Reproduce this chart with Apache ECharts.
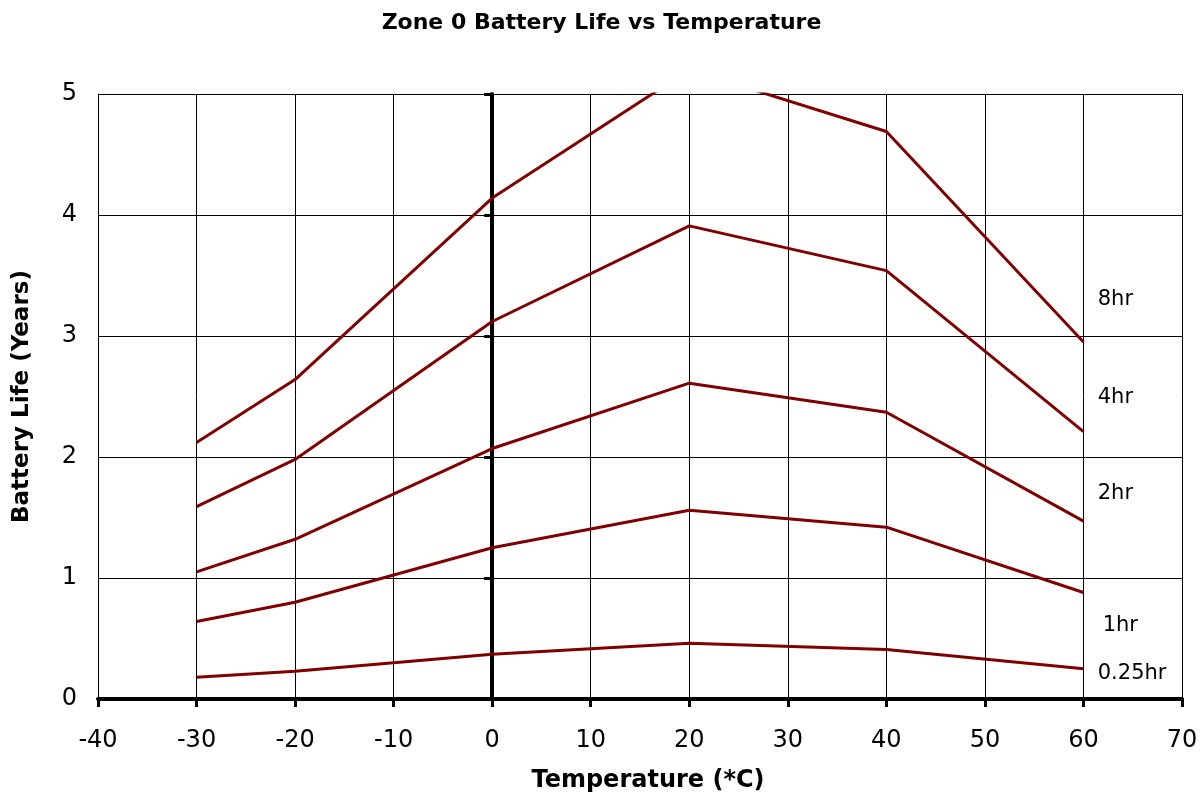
<!DOCTYPE html>
<html>
<head>
<meta charset="utf-8">
<script src="https://cdn.jsdelivr.net/npm/echarts@6/dist/echarts.min.js"></script>
<style>
html,body{margin:0;padding:0;background:#fff;}
#chart{width:1203px;height:801px;}
</style>
</head>
<body>
<div id="chart"></div>
<script>
var temps = [-30, -20, 0, 20, 40, 60];
var seriesNames = ['8hr', '4hr', '2hr', '1hr', '0.25hr'];
var hr8 = [2.12, 2.64, 4.14, 5.2, 4.69, 2.95];
var hr4 = [1.59, 1.98, 3.12, 3.91, 3.54, 2.21];
var hr2 = [1.05, 1.32, 2.07, 2.61, 2.37, 1.47];
var hr1 = [0.64, 0.80, 1.25, 1.56, 1.42, 0.88];
var hr025 = [0.18, 0.23, 0.37, 0.46, 0.41, 0.25];
var labelX = [61.4, 61.4, 61.4, 61.9, 61.4];
var labelY = [3.30, 2.49, 1.70, 0.605, 0.21];
var xTicks = [-40, -30, -20, -10, 0, 10, 20, 30, 40, 50, 60, 70];
var yTicks = [0, 1, 2, 3, 4, 5];

var allValues = [hr8, hr4, hr2, hr1, hr025];
var FONT = 'DejaVu Sans';

var chart = echarts.init(document.getElementById('chart'), null, {renderer: 'canvas'});

var series = allValues.map(function (vals, i) {
  return {
    name: seriesNames[i],
    type: 'line',
    symbol: 'none',
    clip: true,
    z: 5,
    lineStyle: {color: '#800000', width: 3},
    data: temps.map(function (t, j) { return [t, vals[j]]; })
  };
});

series.push({
  name: 'labels',
  type: 'scatter',
  symbolSize: 1,
  itemStyle: {color: 'rgba(0,0,0,0)'},
  silent: true,
  z: 6,
  label: {
    show: true,
    position: 'right',
    distance: 0,
    color: '#000',
    opacity: 1,
    fontFamily: FONT,
    fontSize: 21,
    formatter: function (p) { return p.value[2]; }
  },
  data: seriesNames.map(function (n, i) { return [labelX[i], labelY[i], n]; })
});

var option = {
  animation: false,
  backgroundColor: '#fff',
  title: {
    text: 'Zone 0 Battery Life vs Temperature',
    left: 'center',
    top: 7,
    textStyle: {fontFamily: FONT, fontWeight: 'bold', fontSize: 22, color: '#000'}
  },
  grid: {left: 98, right: 21, top: 94, bottom: 102, containLabel: false},
  xAxis: {
    type: 'value',
    min: xTicks[0],
    max: xTicks[xTicks.length - 1],
    interval: 10,
    name: 'Temperature (*C)',
    nameLocation: 'middle',
    nameGap: 70,
    nameTextStyle: {fontFamily: FONT, fontWeight: 'bold', fontSize: 24, color: '#000', padding: [0, 0, 0, 16]},
    axisLine: {show: true, onZero: false, lineStyle: {color: '#000', width: 4}},
    axisTick: {show: true, length: 8, lineStyle: {color: '#000', width: 3}},
    axisLabel: {fontFamily: FONT, fontSize: 24, color: '#000', margin: 30},
    splitLine: {show: true, lineStyle: {color: '#000', width: 1}}
  },
  yAxis: [{
    type: 'value',
    min: yTicks[0],
    max: yTicks[yTicks.length - 1],
    interval: 1,
    position: 'left',
    name: 'Battery Life (Years)',
    nameLocation: 'middle',
    nameGap: 64,
    nameTextStyle: {fontFamily: FONT, fontWeight: 'bold', fontSize: 23, color: '#000'},
    axisLine: {show: true, onZero: false, lineStyle: {color: '#000', width: 1}},
    axisTick: {show: false},
    axisLabel: {fontFamily: FONT, fontSize: 24, color: '#000', margin: 21},
    splitLine: {show: true, lineStyle: {color: '#000', width: 1}}
  }, {
    type: 'value',
    min: yTicks[0],
    max: yTicks[yTicks.length - 1],
    interval: 1,
    position: 'left',
    axisLine: {show: true, onZero: true, lineStyle: {color: '#000', width: 4}},
    axisTick: {show: true, length: 8, lineStyle: {color: '#000', width: 3}},
    axisLabel: {show: false},
    splitLine: {show: false}
  }],
  series: series
};

chart.setOption(option);
</script>
</body>
</html>
